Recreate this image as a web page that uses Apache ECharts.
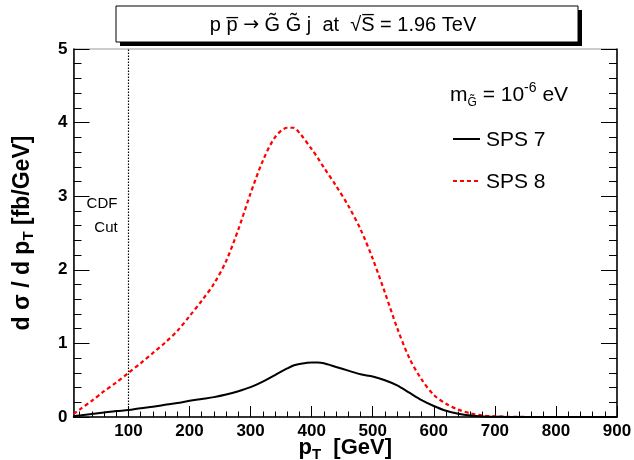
<!DOCTYPE html>
<html>
<head>
<meta charset="utf-8">
<script src="https://cdn.jsdelivr.net/npm/echarts@6/dist/echarts.min.js"></script>
<style>
html,body{margin:0;padding:0;background:#fff;}
#c{width:634px;height:460px;}
</style>
</head>
<body>
<div id="c"></div>
<script>
// ---- data ----
const pT = [10,20,40,60,80,100,120,140,160,180,200,220,240,260,280,300,320,340,360,370,380,400,410,420,440,460,480,500,520,540,560,580,600,620,640,660,680,700,720,740,760,780,800,820,840,860,880,900];
const sps7 = [0.01,0.02,0.04,0.06,0.08,0.095,0.12,0.14,0.165,0.19,0.22,0.245,0.27,0.305,0.35,0.405,0.48,0.57,0.66,0.70,0.72,0.74,0.74,0.73,0.68,0.63,0.58,0.55,0.50,0.43,0.33,0.23,0.15,0.085,0.045,0.02,0.008,0.003,0.001,0,0,0,0,0,0,0,0,0];
const sps8 = [0.04,0.10,0.22,0.35,0.47,0.60,0.73,0.87,1.01,1.17,1.37,1.58,1.81,2.12,2.55,3.04,3.48,3.80,3.93,3.93,3.86,3.64,3.52,3.39,3.14,2.87,2.55,2.15,1.69,1.21,0.80,0.51,0.30,0.18,0.10,0.05,0.02,0.008,0.003,0.001,0,0,0,0,0,0,0,0];
const seriesNames = ['SPS 7','SPS 8'];
const xMajorTicks = [100,200,300,400,500,600,700,800,900];
const xMinorTicks = [20,40,60,80,120,140,160,180,220,240,260,280,320,340,360,380,420,440,460,480,520,540,560,580,620,640,660,680,720,740,760,780,820,840,860,880];
const cdfCut = 100;

const FONT = '"Liberation Sans", Arial, Helvetica, sans-serif';
const toPairs = (ys) => pT.map((x, i) => [x, ys[i]]);

const chart = echarts.init(document.getElementById('c'));
const gridBox = {left: 73.5, right: 17, top: 49, bottom: 43};

const colors = ['#000000', '#ff0000'];
const lineTypes = ['solid', [4, 3]];

const commonX = {type: 'value', min: 10, max: 900, gridIndex: 0};
chart.setOption({
  animation: false,
  backgroundColor: '#fff',
  grid: Object.assign({show: true, borderColor: '#999', borderWidth: 1, containLabel: false, outerBoundsMode: 'none'}, gridBox),
  xAxis: [
    Object.assign({}, commonX, {
      position: 'bottom',
      axisLine: {show: true, onZero: false, lineStyle: {color: '#000', width: 1.5}},
      axisTick: {show: true, inside: true, length: 11, customValues: xMajorTicks, lineStyle: {color: '#000', width: 1}},
      axisLabel: {show: true, customValues: xMajorTicks, color: '#000', fontFamily: FONT, fontWeight: 'bold', fontSize: 17, margin: 6},
      splitLine: {show: false},
      name: '{b|p}{s|T}{b|  [GeV]}',
      nameLocation: 'middle',
      nameGap: 17,
      nameMoveOverlap: false,
      nameTextStyle: {
        rich: {
          b: {fontFamily: FONT, fontWeight: 'bold', fontSize: 22, color: '#000'},
          s: {fontFamily: FONT, fontWeight: 'bold', fontSize: 15, color: '#000', padding: [13, 0, 0, 0]}
        }
      }
    }),
    Object.assign({}, commonX, {
      position: 'bottom',
      axisLine: {show: false, onZero: false},
      axisTick: {show: true, inside: true, length: 5.5, customValues: xMinorTicks, lineStyle: {color: '#000', width: 1}},
      axisLabel: {show: false},
      splitLine: {show: false}
    })
  ],
  yAxis: [
    {
      type: 'value', min: 0, max: 5, interval: 1, position: 'left',
      axisLine: {show: true, onZero: false, lineStyle: {color: '#000', width: 1.5}},
      axisTick: {show: true, inside: true, length: 16, lineStyle: {color: '#000', width: 1}},
      minorTick: {show: true, splitNumber: 5, length: 8, lineStyle: {color: '#000', width: 1}},
      axisLabel: {color: '#000', fontFamily: FONT, fontWeight: 'bold', fontSize: 17, margin: 6},
      splitLine: {show: false},
      name: '{b|d σ / d p}{s|T}{b| [fb/GeV]}',
      nameLocation: 'middle',
      nameRotate: 90,
      nameGap: 37,
      nameMoveOverlap: false,
      nameTextStyle: {
        rich: {
          b: {fontFamily: FONT, fontWeight: 'bold', fontSize: 23, color: '#000'},
          s: {fontFamily: FONT, fontWeight: 'bold', fontSize: 15, color: '#000', padding: [13, 0, 0, 0]}
        }
      }
    },
    {
      type: 'value', min: 0, max: 5, interval: 1, position: 'right',
      axisLine: {show: true, onZero: false, lineStyle: {color: '#000', width: 1.5}},
      axisTick: {show: true, inside: true, length: 16, lineStyle: {color: '#000', width: 1}},
      minorTick: {show: true, splitNumber: 5, length: 8, lineStyle: {color: '#000', width: 1}},
      axisLabel: {show: false},
      splitLine: {show: false}
    }
  ],
  series: [
    {
      name: seriesNames[0], type: 'line', xAxisIndex: 0, yAxisIndex: 0,
      data: toPairs(sps7), symbol: 'none', smooth: 0.3,
      lineStyle: {color: colors[0], width: 2, type: lineTypes[0]},
      itemStyle: {color: colors[0]},
      markLine: {
        silent: true, symbol: 'none', label: {show: false},
        lineStyle: {color: '#000', width: 1.2, type: [1.5, 1.5]},
        data: [{xAxis: cdfCut}]
      },
      z: 3
    },
    {
      name: seriesNames[1], type: 'line', xAxisIndex: 0, yAxisIndex: 0,
      data: toPairs(sps8), symbol: 'none', smooth: 0.3,
      lineStyle: {color: colors[1], width: 2.2, type: lineTypes[1]},
      itemStyle: {color: colors[1]},
      z: 2
    }
  ],
  graphic: [
    {type: 'rect', shape: {x: 120, y: 10, width: 462, height: 36}, style: {fill: '#000'}, z: 10},
    {type: 'rect', shape: {x: 116, y: 6, width: 462, height: 36}, style: {fill: '#fff', stroke: '#000', lineWidth: 1}, z: 11},
    {type: 'text', x: 343, y: 25, z: 12,
      style: {
        text: '{t|p p\u0305 }{a|\u2192}{t| G\u0303 G\u0303 j  at  \u221AS\u0305 = 1.96 TeV}',
        align: 'center', verticalAlign: 'middle',
        rich: {
          t: {fontFamily: FONT, fontSize: 20, fill: '#000'},
          a: {fontFamily: '"DejaVu Sans"', fontSize: 19, fill: '#000'}
        }
      }},
    {type: 'text', x: 450, y: 95, z: 12,
      style: {
        text: '{m|m}{s|G\u0303}{m| = 10}{p|-6}{m| eV}',
        verticalAlign: 'middle',
        rich: {
          m: {fontFamily: FONT, fontSize: 21, fill: '#000'},
          s: {fontFamily: FONT, fontSize: 12, fill: '#000', padding: [15, 0, 0, 0]},
          p: {fontFamily: FONT, fontSize: 14, fill: '#000', padding: [0, 0, 14, 0]}
        }
      }},
    // legend
    {type: 'line', z: 12, shape: {x1: 453, y1: 139, x2: 480, y2: 139}, style: {stroke: colors[0], lineWidth: 2}},
    {type: 'text', x: 486, y: 140, z: 12, style: {text: seriesNames[0], font: '21px ' + FONT, fill: '#000', verticalAlign: 'middle'}},
    {type: 'line', z: 12, shape: {x1: 453, y1: 181, x2: 480, y2: 181}, style: {stroke: colors[1], lineWidth: 2.2, lineDash: lineTypes[1]}},
    {type: 'text', x: 486, y: 182, z: 12, style: {text: seriesNames[1], font: '21px ' + FONT, fill: '#000', verticalAlign: 'middle'}},
    {type: 'text', x: 102, y: 204, z: 12, style: {text: 'CDF', font: '15px ' + FONT, fill: '#000', align: 'center', verticalAlign: 'middle'}},
    {type: 'text', x: 106, y: 228, z: 12, style: {text: 'Cut', font: '15px ' + FONT, fill: '#000', align: 'center', verticalAlign: 'middle'}}
  ]
});
</script>
</body>
</html>
